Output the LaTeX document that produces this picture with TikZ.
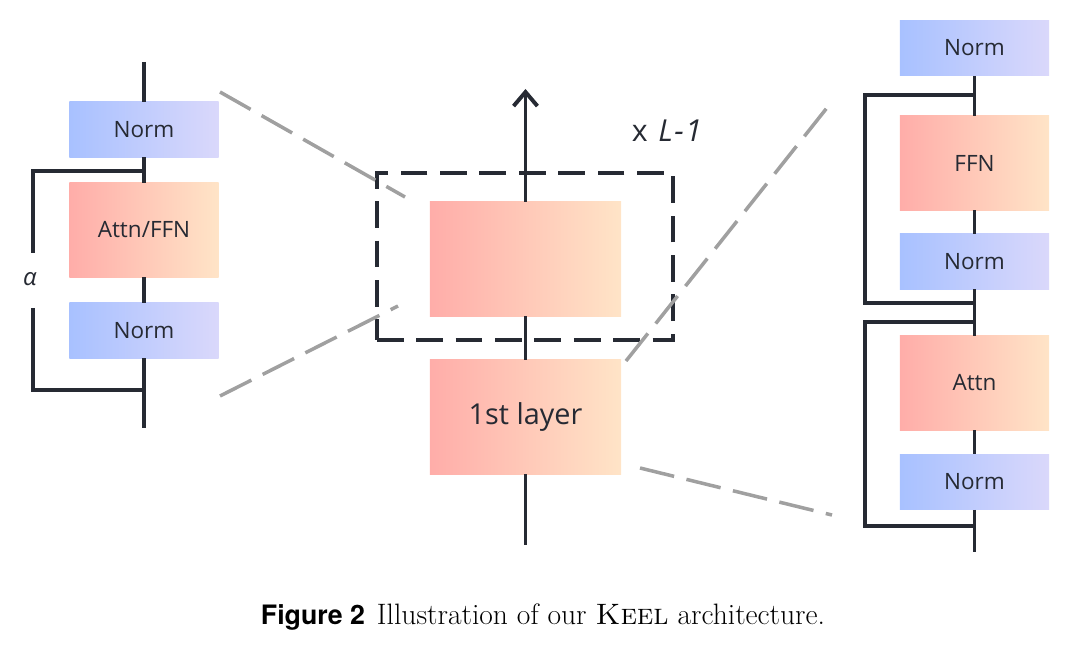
\documentclass[tikz,border=0pt]{standalone}
\usepackage{fontspec}
\usepackage{xcolor}
\usepackage{tikz}
\usetikzlibrary{calc,positioning,arrows.meta}
\newfontfamily\labelfont{Open Sans}
\newfontfamily\capfont{TeX Gyre Heros}
\definecolor{ink}{HTML}{262A33}
\definecolor{zoomgray}{HTML}{A0A0A0}
\definecolor{normleft}{HTML}{A8C1FF}
\definecolor{normright}{HTML}{DAD8FB}
\definecolor{blockleft}{HTML}{FFADA9}
\definecolor{blockright}{HTML}{FFE4C7}
\tikzset{
    >={Straight Barb[length=10pt,width=17pt,line width=2.8pt]},
    normbox/.style={
        rectangle,
        left color=normleft,
        right color=normright,
        minimum width=3.725cm,
        minimum height=1.375cm,
        inner sep=0pt,
        text=ink,
        font={\labelfont\fontsize{16pt}{19}\selectfont}
    },
    mixbox/.style={
        normbox,
        left color=blockleft,
        right color=blockright,
        minimum height=2.35cm
    },
    layerbox/.style={
        mixbox,
        minimum width=4.775cm,
        minimum height=2.85cm,
        font={\labelfont\fontsize{20.5pt}{24}\selectfont}
    },
    line/.style={draw=ink, line width=2.8pt},
    repbox/.style={
        rectangle, draw=ink, line width=2.8pt,
        dash pattern=on 19pt off 9pt,
        minimum width=7.4cm,
        minimum height=4.175cm,
        inner sep=0pt
    },
    zoomline/.style={draw=zoomgray, line width=2.5pt, dash pattern=on 25pt off 9pt},
}

\begin{document}
\begin{tikzpicture}
[
    x=0.025cm, y=-0.025cm,
    tag/.style={text=ink, font={\labelfont\fontsize{17pt}{20}\selectfont}},
]
\useasboundingbox (0,0) rectangle (1073,648);

% left: one sub-layer
\node (lnorm1) at (144,129.5) [normbox] {Norm};
\node (lmix) at (144,230) [mixbox] {Attn/FFN};
\node (lnorm2) at (144,330.5) [normbox] {Norm};
\coordinate (ltop) at (144,62);
\coordinate (lbot) at (144,428);
\coordinate (lin) at (144,171);
\coordinate (lout) at (144,390);
\coordinate (lgap1) at (33,253);
\coordinate (lgap2) at (33,308);
\node (alpha) at (30,279) [tag] {\itshape α};
\draw[line] (ltop) -- (lnorm1);
\draw[line] (lnorm1) -- (lmix);
\draw[line] (lmix) -- (lnorm2);
\draw[line] (lnorm2) -- (lbot);
\draw[line] (lin) -| (lgap1);
\draw[line] (lgap2) |- (lout);

% middle: the stack
\node (rep) at (525,256.5) [repbox] {};
\node (upper) at (525.5,259) [layerbox] {};
\node (first) at (525.5,417) [layerbox] {1st layer};
\node (times) at (667,131) [tag, font={\labelfont\fontsize{21.5pt}{24}\selectfont}] {x\hspace{0.35em}\itshape L\hspace{0.05em}-\hspace{0.05em}1};
\coordinate (cbot) at (525.5,545);
\coordinate (ctop) at (525.5,89);
\draw[line] (cbot) -- (first);
\draw[line] (first) -- (upper);
\draw[line, ->] (upper) -- (ctop);

% right: two sub-layers
\node (rnorm1) at (974.5,48) [normbox] {Norm};
\node (rffn) at (974.5,163) [mixbox] {FFN};
\node (rnorm2) at (974.5,261.5) [normbox] {Norm};
\node (rattn) at (974.5,383) [mixbox] {Attn};
\node (rnorm3) at (974.5,482) [normbox] {Norm};
\coordinate (rbot) at (974.5,552);
\coordinate (rin1) at (974.5,95);
\coordinate (rout1) at (974.5,303);
\coordinate (rin2) at (974.5,322);
\coordinate (rout2) at (974.5,526);
\coordinate (rside1) at (865,95);
\coordinate (rside2) at (865,322);
\draw[line] (rnorm1) -- (rffn);
\draw[line] (rffn) -- (rnorm2);
\draw[line] (rnorm2) -- (rattn);
\draw[line] (rattn) -- (rnorm3);
\draw[line] (rnorm3) -- (rbot);
\draw[line] (rin1) -- (rside1) |- (rout1);
\draw[line] (rin2) -- (rside2) |- (rout2);

% zoom lines
\coordinate (za) at (220,92);
\coordinate (zb) at (405,197);
\coordinate (zc) at (220,396);
\coordinate (zd) at (398,306);
\coordinate (ze) at (626,361);
\coordinate (zf) at (830,104);
\coordinate (zg) at (640,468);
\coordinate (zh) at (832,515);
\draw[zoomline] (za) -- (zb);
\draw[zoomline] (zc) -- (zd);
\draw[zoomline] (ze) -- (zf);
\draw[zoomline] (zg) -- (zh);

\node (caption) at (543,617) {{\capfont\bfseries\fontsize{19pt}{22}\selectfont Figure 2}\hspace{0.85em}{\rmfamily\fontsize{21pt}{24}\selectfont Illustration of our \textsc{Keel} architecture.}};
\end{tikzpicture}
\end{document}
